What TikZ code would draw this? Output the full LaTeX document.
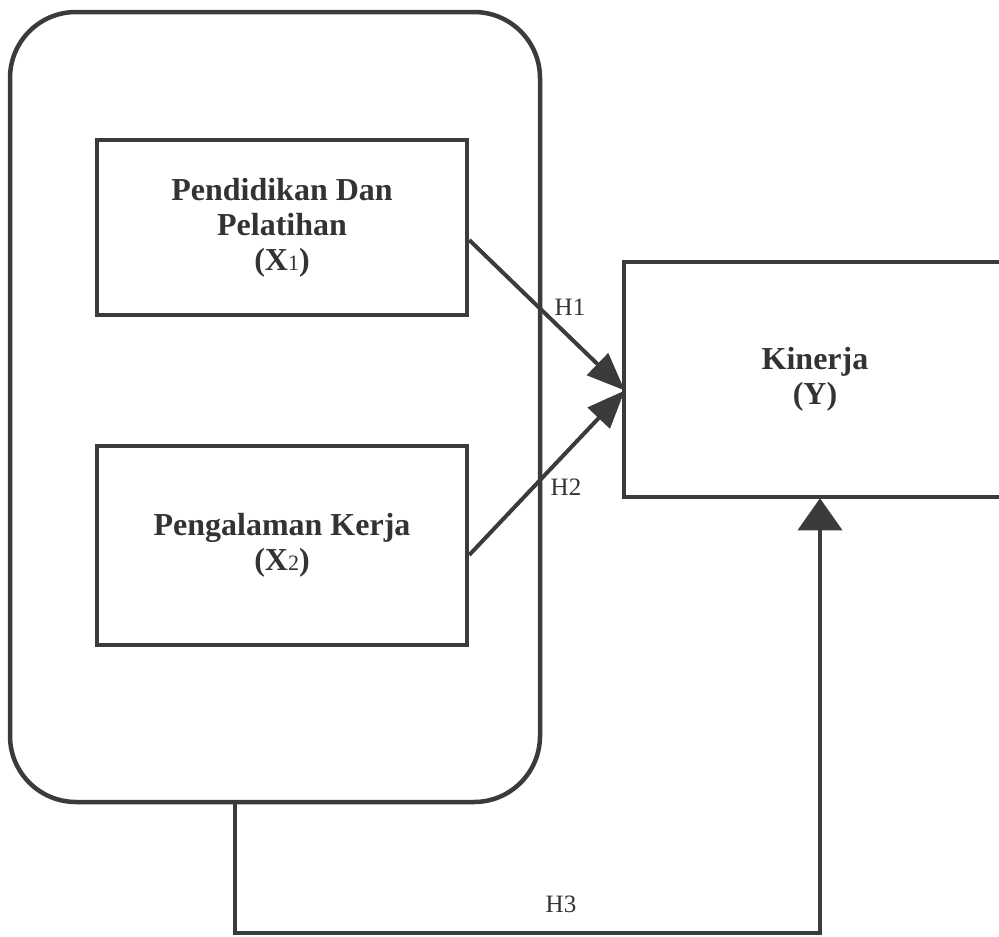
\documentclass[tikz,border=0pt]{standalone}
\usepackage{fontspec}
\setmainfont{Liberation Serif}
\usetikzlibrary{arrows.meta}
\definecolor{ink}{HTML}{3B3B3B}
\definecolor{txt}{HTML}{333333}
\newcommand{\sub}[1]{{\fontsize{22pt}{22pt}\selectfont\mdseries #1}}
\begin{document}
\begin{tikzpicture}[x=1pt,y=-1pt,
  boxstyle/.style={draw=ink,line width=4.5pt,rectangle,inner sep=0pt,
    text=txt,align=center,font=\fontsize{32pt}{35pt}\selectfont\bfseries},
  conn/.style={draw=ink,line width=4pt},
  arrd/.style={conn,-{Triangle[length=38pt,width=30pt]}},
  arru/.style={conn,-{Triangle[length=32pt,width=44pt]}},
  lbl/.style={text=txt,font=\fontsize{25pt}{27pt}\selectfont,inner sep=0pt}]
\useasboundingbox (0,0) rectangle (999,937);
\fill[white] (0,0) rectangle (999,937);
\node[boxstyle,rounded corners=66pt,minimum width=530pt,minimum height=790pt] (grp) at (275,407) {};
\node[boxstyle,minimum width=370pt,minimum height=175pt] (x1) at (282,227.5) {Pendidikan Dan\\Pelatihan\\(X\sub{1})};
\node[boxstyle,minimum width=370pt,minimum height=199pt] (x2) at (282,545.5) {Pengalaman Kerja\\(X\sub{2})};
\node[boxstyle,minimum width=382pt,minimum height=235pt] (yk) at (815,379.5) {Kinerja\\(Y)};
\draw[arrd] ([yshift=-12.5pt]x1.east) -- ([shift={(3pt,-11pt)}]yk.west);
\draw[arrd] ([yshift=-9.5pt]x2.east) -- ([shift={(3pt,-11pt)}]yk.west);
\coordinate (b3) at (235,933);
\draw[arru] (grp.south -| b3) -- (b3) -| ([xshift=5pt,yshift=1pt]yk.south);
\node[lbl] (h1) at (570,307) {H1};
\node[lbl] (h2) at (566,487) {H2};
\node[lbl] (h3) at (561,904) {H3};
\end{tikzpicture}
\end{document}
